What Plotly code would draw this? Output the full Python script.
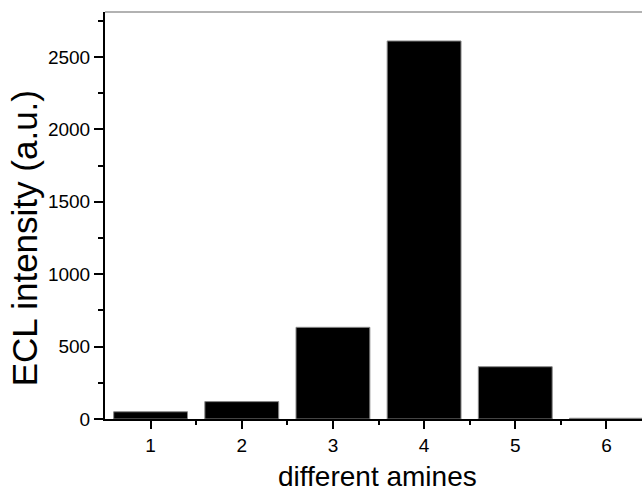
import plotly.graph_objects as go

categories = [1, 2, 3, 4, 5, 6]
intensity = [50, 120, 633, 2610, 361, 5]
y_ticks = [0, 500, 1000, 1500, 2000, 2500]
x_title = "different amines"
y_title = "ECL intensity (a.u.)"

fig = go.Figure()
fig.add_trace(go.Bar(
    x=categories, y=intensity, width=0.81,
    marker=dict(color="black", line=dict(color="#888888", width=1)),
))

font_family = "Liberation Sans, Arial, sans-serif"
fig.update_layout(
    width=642, height=494,
    margin=dict(l=105, r=0, t=12, b=75),
    plot_bgcolor="white", paper_bgcolor="white",
    showlegend=False,
    font=dict(family=font_family, color="black"),
    xaxis=dict(
        range=[0.5, 6.39], tickvals=categories, ticktext=[str(c) for c in categories],
        ticks="outside", ticklen=8, tickwidth=1.5, tickcolor="black",
        showline=True, linecolor="black", linewidth=2,
        showgrid=False, zeroline=False, automargin=False,
        tickfont=dict(size=19),
        minor=dict(tickvals=[1.5, 2.5, 3.5, 4.5, 5.5], ticks="outside", ticklen=4, tickwidth=1.5, tickcolor="black"),
    ),
    yaxis=dict(
        range=[0, 2810], tickvals=y_ticks,
        ticks="outside", ticklen=9, tickwidth=1.5, tickcolor="black",
        showline=True, linecolor="black", linewidth=2,
        showgrid=False, zeroline=False, automargin=False,
        tickfont=dict(size=19),
        minor=dict(dtick=250, ticks="outside", ticklen=5, tickwidth=1.5, tickcolor="black", showgrid=False),
    ),
    annotations=[
        dict(text=x_title, xref="paper", yref="paper", x=0.508, y=-0.142,
             xanchor="center", yanchor="middle", showarrow=False, font=dict(size=28)),
        dict(text=y_title, xref="paper", yref="paper", x=-0.15, y=0.445, textangle=-90,
             xanchor="center", yanchor="middle", showarrow=False, font=dict(size=35)),
    ],
    shapes=[dict(type="line", xref="paper", yref="paper", x0=0, x1=1, y0=1, y1=1,
                 line=dict(color="#999999", width=1.5))],
)

fig.write_html("out.html", config={"displayModeBar": False},
               post_script="document.body.style.margin='0';document.body.style.overflow='hidden';")
